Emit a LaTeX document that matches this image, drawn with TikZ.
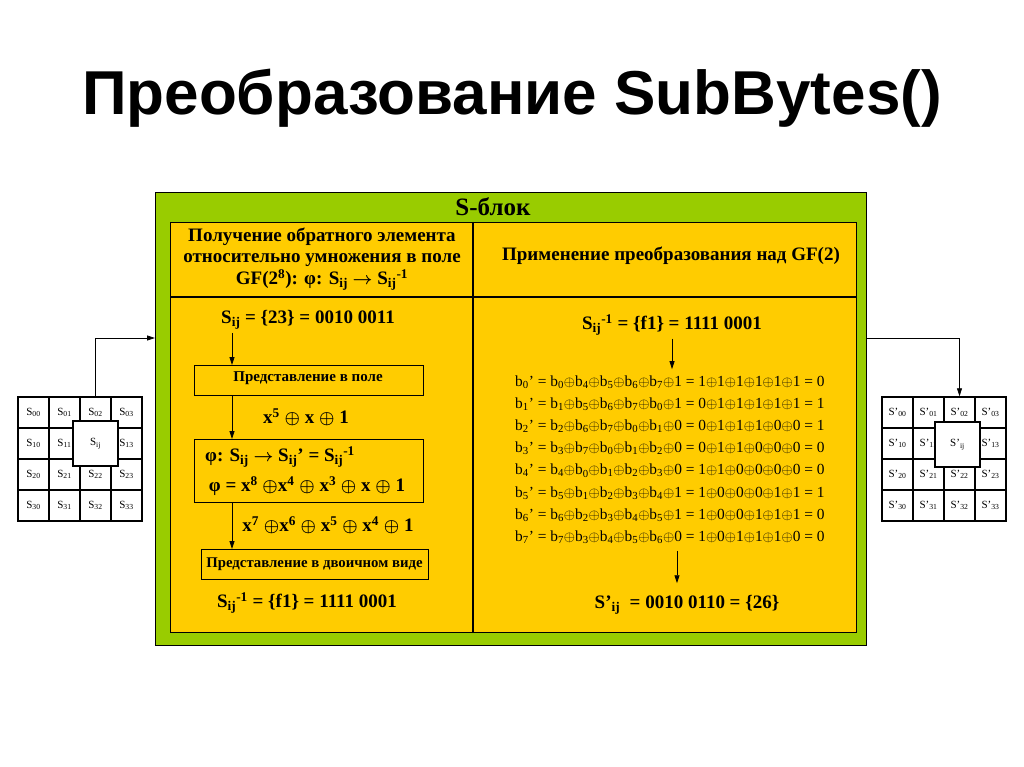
\documentclass[tikz,border=0pt]{standalone}
\usepackage{fontspec}
\setmainfont{Liberation Serif}
\newfontfamily\titlefont{Liberation Sans}
\usetikzlibrary{arrows.meta}
\definecolor{sgreen}{RGB}{153,204,0}
\definecolor{sorange}{RGB}{255,204,0}
\newcommand\xo{\ensuremath{\oplus}}
\newcommand\sbs[1]{\textsubscript{#1}}
\newcommand\sps[1]{\textsuperscript{#1}}
\newcommand\bsub[1]{b\textsubscript{#1}}
\newcommand\rarr{\ensuremath{\rightarrow}}
\tikzset{
  panel/.style={draw, line width=1.3pt, inner sep=0pt, anchor=north west},
  lbl/.style={font=\bfseries\boldmath\fontsize{19}{22}\selectfont, inner sep=0pt},
  hdr/.style={font=\bfseries\boldmath\fontsize{19}{21.5}\selectfont, inner sep=0pt, align=center},
  stepbox/.style={draw, line width=1.1pt, inner sep=0pt, anchor=north west},
  arr/.style={-{Triangle[length=8pt,width=5pt]}, line width=0.8pt},
  cell/.style={draw, line width=1.4pt, minimum size=31pt, inner sep=0pt, fill=white, font=\fontsize{11}{12}\selectfont},
}
\begin{document}
\begin{tikzpicture}[x=1pt,y=-1pt]
\useasboundingbox (0,0) rectangle (1024,767);
% title
\node[font=\titlefont\bfseries\fontsize{62}{70}\selectfont, inner sep=0pt] (title) at (512,98) {Преобразование SubBytes()};
% panels
\node[panel, fill=sgreen, minimum width=711pt, minimum height=453pt] (green) at (155,192) {};
\node[panel, fill=sorange, minimum width=686pt, minimum height=410pt] (orange) at (170,222) {};
\coordinate (divx) at (473,0);
\coordinate (hdy) at (0,297);
\draw[line width=1.3pt] (orange.north -| divx) -- (orange.south -| divx);
\draw[line width=1.3pt] (orange.west |- hdy) -- (orange.east |- hdy);
\node[font=\bfseries\fontsize{25}{28}\selectfont, inner sep=0pt] (sblk) at (493,207) {S-блок};
\node[hdr] (h1) at (322,259) {Получение обратного элемента\\относительно умножения в поле\\GF(2\sps{8}): φ: S\sbs{ij} \rarr{} S\sbs{ij}\sps{-1}};
\node[hdr] (h2) at (671,256) {Применение преобразования над GF(2)};
% left column
\coordinate (ax) at (232,0);
\node[lbl] (s1) at (308,320) {S\sbs{ij} = \{23\} = 0010 0011};
\node[stepbox, minimum width=229pt, minimum height=30pt] (rep1) at (194,365) {};
\node[font=\bfseries\fontsize{15}{18}\selectfont, inner sep=0pt] (rep1t) at (308,378) {Представление в поле};
\node[lbl] (p1) at (306,417) {x\sps{5} \xo{} x \xo{} 1};
\node[stepbox, minimum width=229pt, minimum height=63pt] (phi) at (194,439) {};
\node[lbl] (phi1) at (280,457) {φ: S\sbs{ij} \rarr{} S\sbs{ij}’ = S\sbs{ij}\sps{-1}};
\node[lbl] (phi2) at (307,486) {φ = x\sps{8} \xo x\sps{4} \xo{} x\sps{3} \xo{} x \xo{} 1};
\node[lbl] (p2) at (328,525) {x\sps{7} \xo x\sps{6} \xo{} x\sps{5} \xo{} x\sps{4} \xo{} 1};
\node[stepbox, minimum width=227pt, minimum height=30pt] (rep2) at (201,549) {};
\node[font=\bfseries\fontsize{14.8}{18}\selectfont, inner sep=0pt] (rep2t) at (314.5,564) {Представление в двоичном виде};
\node[lbl] (s2) at (307,603) {S\sbs{ij}\sps{-1} = \{f1\} = 1111 0001};
\draw[arr] (s1.south -| ax) ++(0,3) -- (rep1.north -| ax);
\draw[arr] (rep1.south -| ax) -- (phi.north -| ax);
\draw[arr] (phi.south -| ax) -- (rep2.north -| ax);
% right column
\node[lbl] (s3) at (672,325) {S\sbs{ij}\sps{-1} = \{f1\} = 1111 0001};
\node[anchor=west, align=left, font=\fontsize{15.4}{22.2}\selectfont, inner sep=0pt] (bl) at (515,459.5) {%
\bsub{0}’ = \bsub{0}\xo\bsub{4}\xo\bsub{5}\xo\bsub{6}\xo\bsub{7}\xo1 = 1\xo1\xo1\xo1\xo1\xo1 = 0\\
\bsub{1}’ = \bsub{1}\xo\bsub{5}\xo\bsub{6}\xo\bsub{7}\xo\bsub{0}\xo1 = 0\xo1\xo1\xo1\xo1\xo1 = 1\\
\bsub{2}’ = \bsub{2}\xo\bsub{6}\xo\bsub{7}\xo\bsub{0}\xo\bsub{1}\xo0 = 0\xo1\xo1\xo1\xo0\xo0 = 1\\
\bsub{3}’ = \bsub{3}\xo\bsub{7}\xo\bsub{0}\xo\bsub{1}\xo\bsub{2}\xo0 = 0\xo1\xo1\xo0\xo0\xo0 = 0\\
\bsub{4}’ = \bsub{4}\xo\bsub{0}\xo\bsub{1}\xo\bsub{2}\xo\bsub{3}\xo0 = 1\xo1\xo0\xo0\xo0\xo0 = 0\\
\bsub{5}’ = \bsub{5}\xo\bsub{1}\xo\bsub{2}\xo\bsub{3}\xo\bsub{4}\xo1 = 1\xo0\xo0\xo0\xo1\xo1 = 1\\
\bsub{6}’ = \bsub{6}\xo\bsub{2}\xo\bsub{3}\xo\bsub{4}\xo\bsub{5}\xo1 = 1\xo0\xo0\xo1\xo1\xo1 = 0\\
\bsub{7}’ = \bsub{7}\xo\bsub{3}\xo\bsub{4}\xo\bsub{5}\xo\bsub{6}\xo0 = 1\xo0\xo1\xo1\xo1\xo0 = 0};
\node[lbl] (s4) at (687,605) {S’\sbs{ij}\enspace = 0010 0110 = \{26\}};
\coordinate (bx1) at (672,0);
\coordinate (bx2) at (677,0);
\draw[arr] (s3.south -| bx1) ++(0,3) -- ([yshift=6pt]bl.north -| bx1);
\draw[arr] ([yshift=-7pt]bl.south -| bx2) -- ([yshift=12pt]s4.north -| bx2);
% left grid (cell 1,2 is fully covered by the Sij box)
\foreach \r in {0,...,3}{\foreach \c in {0,...,3}{
  \ifnum\r\c=12
    \node[cell] (L\r\c) at ({33.5+31*\c},{412.5+31*\r}) {};
  \else
    \node[cell] (L\r\c) at ({33.5+31*\c},{412.5+31*\r}) {S\sbs{\r\c}};
  \fi
}}
\node[cell, minimum size=45pt] (Lij) at (95.5,443.5) {S\sbs{ij}};
% right grid
\foreach \r in {0,...,3}{\foreach \c in {0,...,3}{
  \ifnum\r\c=12
    \node[cell] (R\r\c) at ({897.5+31*\c},{412.5+31*\r}) {};
  \else
    \node[cell] (R\r\c) at ({897.5+31*\c},{412.5+31*\r}) {S’\sbs{\r\c}};
  \fi
}}
\node[cell, minimum size=45pt] (Rij) at (957.5,444.5) {S’\sbs{ij}};
% connectors
\coordinate (arrY) at (0,338);
\draw[arr] (L02.north) |- (green.west |- arrY);
\draw[arr] (green.east |- arrY) -| (R02.north);
\end{tikzpicture}
\end{document}
